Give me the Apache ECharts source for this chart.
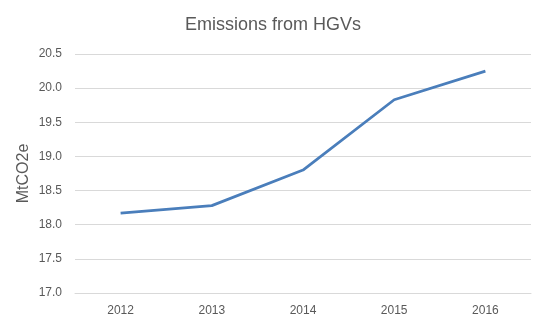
<!DOCTYPE html>
<html>
<head>
<meta charset="utf-8">
<script src="https://cdn.jsdelivr.net/npm/echarts@6/dist/echarts.min.js"></script>
<style>html,body{margin:0;padding:0;background:#fff}#c{width:546px;height:328px}</style>
</head>
<body>
<div id="c"></div>
<script>
const categories = ['2012', '2013', '2014', '2015', '2016'];
const emissions = [18.17, 18.28, 18.80, 19.83, 20.25];
const titleText = 'Emissions from HGVs';
const yAxisName = 'MtCO2e';

const chart = echarts.init(document.getElementById('c'), null, {renderer: 'canvas'});
chart.setOption({
  animation: false,
  backgroundColor: '#ffffff',
  title: {
    text: titleText,
    left: 'center',
    top: 11,
    textStyle: {fontFamily: 'Liberation Sans', fontSize: 18, fontWeight: 'normal', color: '#595959'}
  },
  grid: {left: 75, right: 15, top: 54, bottom: 35, containLabel: false},
  xAxis: {
    type: 'category',
    data: categories,
    boundaryGap: true,
    axisLine: {show: true, lineStyle: {color: '#d9d9d9', width: 1}},
    axisTick: {show: false},
    axisLabel: {fontFamily: 'Liberation Sans', fontSize: 12, color: '#595959', margin: 12}
  },
  yAxis: {
    type: 'value',
    min: 17.0,
    max: 20.5,
    interval: 0.5,
    name: yAxisName,
    nameLocation: 'middle',
    nameGap: 43,
    nameMoveOverlap: false,
    nameTextStyle: {fontFamily: 'Liberation Sans', fontSize: 16, color: '#595959'},
    axisLine: {show: false},
    axisTick: {show: false},
    axisLabel: {fontFamily: 'Liberation Sans', fontSize: 12, color: '#595959', margin: 13,
      formatter: v => v.toFixed(1)},
    splitLine: {show: true, lineStyle: {color: '#d9d9d9', width: 1}}
  },
  series: [{
    type: 'line',
    data: emissions,
    symbol: 'none',
    lineStyle: {color: '#4a7ebb', width: 2.75},
    itemStyle: {color: '#4a7ebb'}
  }]
});
</script>
</body>
</html>
